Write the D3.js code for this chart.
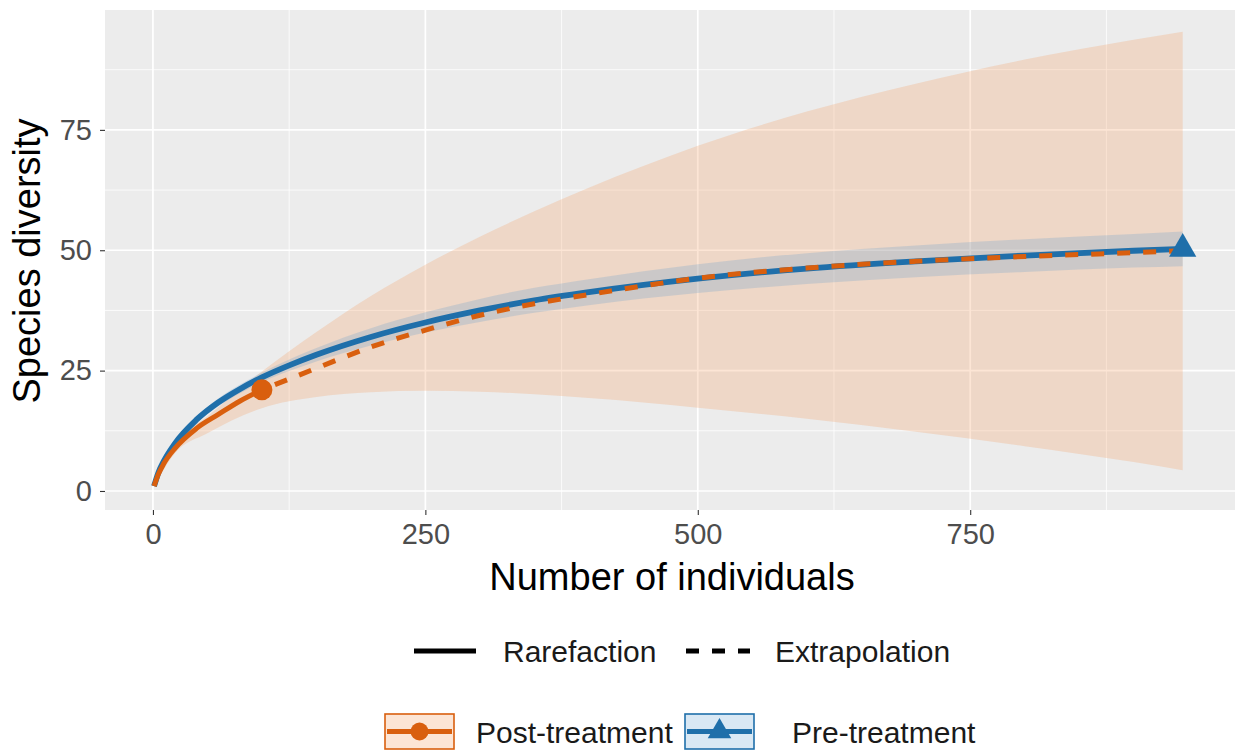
<!DOCTYPE html>
<html>
<head>
<meta charset="utf-8">
<script src="https://cdn.jsdelivr.net/npm/d3@7"></script>
<style>
  body { margin: 0; background: #fff; }
  svg { display: block; }
  text { font-family: "Liberation Sans", Arial, Helvetica, sans-serif; }
</style>
</head>
<body>
<svg id="chart" width="1237" height="756"></svg>
<script>
// Axis ticks
const xTicks = [0, 250, 500, 750];
const xMinorTicks = [125, 375, 625, 875];
const yTicks = [0, 25, 50, 75];
const yMinorTicks = [12.5, 37.5, 62.5, 87.5];

// Pre-treatment: rarefaction curve (observed sample at its last point) with 95% band
const preN     = [1, 5, 10, 20, 40, 60, 80, 100, 125, 150, 200, 250, 300, 350, 400, 500, 600, 700, 800, 900, 945];
const preS     = [1, 3.8, 6.2, 9.8, 14.8, 18.4, 21.2, 23.6, 26.1, 28.3, 32, 35, 37.5, 39.6, 41.3, 44.1, 46.2, 47.7, 48.9, 49.9, 50.3];
const preLower = [1, 3.7, 6.0, 9.4, 14.2, 17.6, 20.3, 22.6, 24.9, 26.9, 30.2, 32.9, 35.1, 37.0, 38.6, 41.1, 43.0, 44.4, 45.5, 46.4, 46.7];
const preUpper = [1, 3.9, 6.4, 10.2, 15.4, 19.2, 22.1, 24.6, 27.3, 29.7, 33.8, 37.1, 39.9, 42.2, 44.0, 47.1, 49.4, 51.0, 52.3, 53.4, 53.9];

// Post-treatment: rarefaction up to the observed sample, then extrapolation
const postRareN = [1, 5, 10, 20, 40, 60, 80, 100];
const postRareS = [1, 3.5, 5.7, 8.8, 13, 15.9, 18.7, 21];
const postExtN  = [100, 150, 200, 250, 300, 350, 400, 450, 500, 600, 700, 800, 900, 945];
const postExtS  = [21, 25.5, 29.9, 33.4, 36.5, 38.9, 40.8, 42.6, 44.2, 46.3, 47.7, 48.7, 49.5, 49.9];
const postBandN     = [1, 20, 50, 100, 150, 200, 250, 300, 350, 400, 450, 500, 600, 700, 800, 900, 945];
const postBandLower = [1, 7.8, 12, 17.2, 19.5, 20.5, 20.8, 20.6, 20.1, 19.3, 18.4, 17.3, 15, 12.3, 9.3, 6, 4.3];
const postBandUpper = [1, 9.8, 15.5, 24.8, 33, 40.5, 47, 52.8, 58.1, 63, 67.5, 71.7, 78.8, 84.6, 89.6, 93.7, 95.4];

// Observed reference samples
const postObserved = { n: 100, s: 21 };
const preObserved  = { n: 945, s: 50.3 };

const methodLabels = ["Rarefaction", "Extrapolation"];
const groupLabels  = ["Post-treatment", "Pre-treatment"];

const colPost = "#D95F0E";
const colPre  = "#1F6FAA";
const fillPost = "rgba(245, 160, 100, 0.27)";
const fillPre  = "rgba(80, 150, 205, 0.22)";

const svg = d3.select("#chart");
const panel = { left: 105, right: 1235, top: 10, bottom: 510 };

const x = d3.scaleLinear().domain([-44, 993]).range([panel.left, panel.right]);
const y = d3.scaleLinear().domain([-3.95, 99.9]).range([panel.bottom, panel.top]);

// Panel background and grid
svg.append("rect")
  .attr("x", panel.left).attr("y", panel.top)
  .attr("width", panel.right - panel.left).attr("height", panel.bottom - panel.top)
  .attr("fill", "#ECECEC");

const grid = svg.append("g");
grid.selectAll(".xminor").data(xMinorTicks).join("line")
  .attr("x1", d => x(d)).attr("x2", d => x(d))
  .attr("y1", panel.top).attr("y2", panel.bottom)
  .attr("stroke", "#fff").attr("stroke-width", 0.8);
grid.selectAll(".yminor").data(yMinorTicks).join("line")
  .attr("y1", d => y(d)).attr("y2", d => y(d))
  .attr("x1", panel.left).attr("x2", panel.right)
  .attr("stroke", "#fff").attr("stroke-width", 0.8);
grid.selectAll(".xmajor").data(xTicks).join("line")
  .attr("x1", d => x(d)).attr("x2", d => x(d))
  .attr("y1", panel.top).attr("y2", panel.bottom)
  .attr("stroke", "#fff").attr("stroke-width", 1.7);
grid.selectAll(".ymajor").data(yTicks).join("line")
  .attr("y1", d => y(d)).attr("y2", d => y(d))
  .attr("x1", panel.left).attr("x2", panel.right)
  .attr("stroke", "#fff").attr("stroke-width", 1.7);

// Confidence bands
const band = d3.area().x(d => x(d.n)).y0(d => y(d.lo)).y1(d => y(d.hi)).curve(d3.curveMonotoneX);
const postBand = postBandN.map((n, i) => ({ n, lo: postBandLower[i], hi: postBandUpper[i] }));
const preBand  = preN.map((n, i) => ({ n, lo: preLower[i], hi: preUpper[i] }));
svg.append("path").datum(postBand).attr("d", band).attr("fill", fillPost);
svg.append("path").datum(preBand).attr("d", band).attr("fill", fillPre);

// Curves
const line = d3.line().x(d => x(d.n)).y(d => y(d.s)).curve(d3.curveMonotoneX);
const zip = (ns, ss) => ns.map((n, i) => ({ n, s: ss[i] }));

svg.append("path").datum(zip(preN, preS)).attr("d", line)
  .attr("fill", "none").attr("stroke", colPre).attr("stroke-width", 5.8)
  .attr("stroke-linecap", "butt");
svg.append("path").datum(zip(postRareN, postRareS)).attr("d", line)
  .attr("fill", "none").attr("stroke", colPost).attr("stroke-width", 5)
  .attr("stroke-linecap", "butt");
svg.append("path").datum(zip(postExtN, postExtS)).attr("d", line)
  .attr("fill", "none").attr("stroke", colPost).attr("stroke-width", 5)
  .attr("stroke-dasharray", "13,13").attr("stroke-dashoffset", -14);

// Observed sample markers
svg.append("circle")
  .attr("cx", x(postObserved.n)).attr("cy", y(postObserved.s)).attr("r", 10.5)
  .attr("fill", colPost);
svg.append("path")
  .attr("d", d3.symbol(d3.symbolTriangle, 320)())
  .attr("transform", `translate(${x(preObserved.n)},${y(preObserved.s)})`)
  .attr("fill", colPre);

// Axes
const xAxis = svg.append("g")
  .attr("transform", `translate(0,${panel.bottom})`)
  .call(d3.axisBottom(x).tickValues(xTicks).tickSize(5).tickPadding(8));
const yAxis = svg.append("g")
  .attr("transform", `translate(${panel.left},0)`)
  .call(d3.axisLeft(y).tickValues(yTicks).tickSize(5).tickPadding(8));
[xAxis, yAxis].forEach(g => {
  g.select(".domain").remove();
  g.selectAll(".tick line").attr("stroke", "#333").attr("stroke-width", 1.1);
  g.selectAll(".tick text").attr("fill", "#4D4D4D")
    .style("font-size", "29px").style("font-family", "'Liberation Sans', Arial, sans-serif");
});

// Axis titles
svg.append("text")
  .attr("x", 672).attr("y", 590)
  .attr("text-anchor", "middle")
  .style("font-size", "38px").attr("fill", "#000")
  .text("Number of individuals");
svg.append("text")
  .attr("transform", "translate(40,261) rotate(-90)")
  .attr("text-anchor", "middle")
  .style("font-size", "38px").attr("fill", "#000")
  .text("Species diversity");

// Legend: method (line type)
const legend1 = svg.append("g");
legend1.append("line")
  .attr("x1", 414).attr("x2", 476).attr("y1", 651).attr("y2", 651)
  .attr("stroke", "#000").attr("stroke-width", 5);
legend1.append("text").attr("x", 503).attr("y", 662)
  .style("font-size", "30px").attr("fill", "#1a1a1a").text(methodLabels[0]);
legend1.append("line")
  .attr("x1", 686).attr("x2", 750).attr("y1", 651).attr("y2", 651)
  .attr("stroke", "#000").attr("stroke-width", 5)
  .attr("stroke-dasharray", "13,13");
legend1.append("text").attr("x", 775).attr("y", 662)
  .style("font-size", "30px").attr("fill", "#1a1a1a").text(methodLabels[1]);

// Legend: group (colour, fill, shape)
const legend2 = svg.append("g");
const keys = [
  { x0: 385, col: colPost, fill: fillPost, shape: "circle", tx: 476, label: groupLabels[0] },
  { x0: 685, col: colPre,  fill: fillPre,  shape: "triangle", tx: 792, label: groupLabels[1] }
];
keys.forEach(k => {
  const w = 69, top = 714, h = 35, cy = top + h / 2;
  legend2.append("rect").attr("x", k.x0).attr("y", top).attr("width", w).attr("height", h)
    .attr("fill", "#fff");
  legend2.append("rect").attr("x", k.x0).attr("y", top).attr("width", w).attr("height", h)
    .attr("fill", k.fill).attr("stroke", k.col).attr("stroke-width", 1.6);
  legend2.append("line").attr("x1", k.x0 + 2).attr("x2", k.x0 + w - 2)
    .attr("y1", cy).attr("y2", cy).attr("stroke", k.col).attr("stroke-width", 5);
  if (k.shape === "circle") {
    legend2.append("circle").attr("cx", k.x0 + w / 2).attr("cy", cy).attr("r", 9).attr("fill", k.col);
  } else {
    legend2.append("path").attr("d", d3.symbol(d3.symbolTriangle, 240)())
      .attr("transform", `translate(${k.x0 + w / 2},${cy})`).attr("fill", k.col);
  }
  legend2.append("text").attr("x", k.tx).attr("y", cy + 11)
    .style("font-size", "30px").attr("fill", "#1a1a1a").text(k.label);
});
</script>
</body>
</html>
